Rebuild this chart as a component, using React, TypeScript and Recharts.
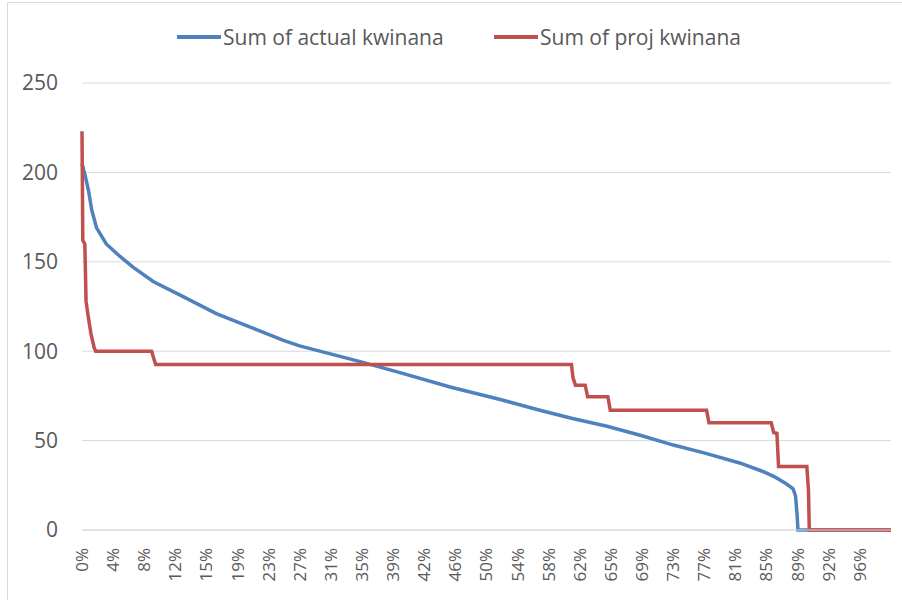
import React from "react";
import { LineChart, Line, XAxis, YAxis, CartesianGrid } from "recharts";

// Sum of actual kwinana (duration curve, % of periods -> value)
const actualPct = [
  0, 0.4, 0.8, 1.2, 1.8, 3.0, 4.7, 6.3, 8.8, 12.5, 16.6, 20.8, 24.9, 26.9, 30.7, 34.5, 39.3, 45.5, 51.7,
  56.6, 60.5, 64.9, 69.0, 73.1, 77.0, 81.3, 84.0, 85.5, 87.0, 87.9, 88.2, 88.4, 88.5, 100,
];
const actualValues = [
  205, 198, 190, 179, 169, 160, 153, 147, 139, 130.5, 121, 113.5, 106, 103, 98.5, 94, 88, 80, 73, 67,
  62.5, 58, 53, 47.5, 43, 37.5, 33, 30, 26, 23, 19, 8, 0, 0,
];

// Sum of proj kwinana
const projPct = [
  0, 0.1, 0.35, 0.5, 0.75, 1.1, 1.5, 1.7, 8.6, 9.1, 60.5, 60.7, 61.0, 62.2, 62.5, 65.0, 65.3, 77.2, 77.5,
  85.2, 85.5, 85.9, 86.1, 89.6, 89.8, 89.9, 100,
];
const projValues = [
  223, 162, 160, 128, 120, 110, 102, 100, 100, 92.5, 92.5, 85, 81, 81, 74.5, 74.5, 67, 67, 60, 60, 54.5, 54,
  35.5, 35.5, 22, 0, 0,
];

const xTickLabels = [
  "0%", "4%", "8%", "12%", "15%", "19%", "23%", "27%", "31%", "35%", "39%", "42%", "46%", "50%", "54%",
  "58%", "62%", "65%", "69%", "73%", "77%", "81%", "85%", "89%", "92%", "96%",
];
const yTicks = [0, 50, 100, 150, 200, 250];

const seriesNames = ["Sum of actual kwinana", "Sum of proj kwinana"];
const colors = ["#4F81BD", "#C0504D"];

const actualData = actualPct.map((x, i) => ({ x, y: actualValues[i] }));
const projData = projPct.map((x, i) => ({ x, y: projValues[i] }));
// the category axis shows one label per 26th of the range
const xTicks = xTickLabels.map((_, i) => (i * 100) / xTickLabels.length);

const FONT = "'Open Sans', sans-serif";
const TEXT = "#595959";

const XTick = (props: any) => {
  const { x, y, index } = props;
  return (
    <text
      x={x}
      y={y}
      transform={`rotate(-90, ${x}, ${y})`}
      textAnchor="end"
      dy="0.35em"
      fill={TEXT}
      fontSize={17}
      fontFamily={FONT}
    >
      {xTickLabels[index]}
    </text>
  );
};

export default function App() {
  return (
    <div style={{ position: "absolute", left: 0, top: 0, width: 902, height: 600, overflow: "hidden", background: "#fff" }}>
      {/* chart frame */}
      <div
        style={{
          position: "absolute",
          left: 7,
          top: 2,
          width: 940,
          height: 640,
          border: "1px solid #d9d9d9",
        }}
      />

      {/* Legend */}
      {seriesNames.map((name, i) => (
        <div
          key={name}
          style={{
            position: "absolute",
            left: i === 0 ? 177 : 494,
            top: 23,
            height: 28,
            display: "flex",
            alignItems: "center",
            fontFamily: FONT,
            fontSize: 21,
            color: TEXT,
            whiteSpace: "nowrap",
          }}
        >
          <span style={{ display: "inline-block", width: 44, height: 4, background: colors[i], marginRight: 2 }} />
          {name}
        </div>
      ))}

      <div style={{ position: "absolute", left: 0, top: 0 }}>
        <LineChart width={902} height={600} margin={{ top: 83, right: 11, bottom: 0, left: 0 }}>
          <CartesianGrid vertical={false} stroke="#d9d9d9" />
          <XAxis
            type="number"
            dataKey="x"
            domain={[0, 100]}
            ticks={xTicks}
            interval={0}
            height={70}
            tickSize={0}
            tickMargin={18}
            axisLine={{ stroke: "#d9d9d9" }}
            tickLine={false}
            tick={<XTick />}
          />
          <YAxis
            type="number"
            dataKey="y"
            domain={[0, 250]}
            ticks={yTicks}
            width={82}
            axisLine={false}
            tickLine={false}
            tickSize={0}
            tickMargin={24}
            tick={{ fill: TEXT, fontSize: 21, fontFamily: FONT }}
          />
          <Line
            data={actualData}
            dataKey="y"
            name={seriesNames[0]}
            type="linear"
            stroke={colors[0]}
            strokeWidth={3.5}
            dot={false}
            activeDot={false}
            isAnimationActive={false}
          />
          <Line
            data={projData}
            dataKey="y"
            name={seriesNames[1]}
            type="linear"
            stroke={colors[1]}
            strokeWidth={3.5}
            dot={false}
            activeDot={false}
            isAnimationActive={false}
          />
        </LineChart>
      </div>
    </div>
  );
}
